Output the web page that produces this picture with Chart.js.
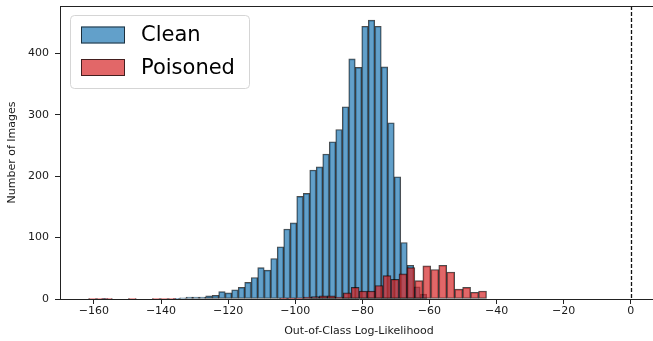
<!DOCTYPE html>
<html>
<head>
<meta charset="utf-8">
<script src="https://cdn.jsdelivr.net/npm/chart.js@4.4.0/dist/chart.umd.min.js"></script>
<style>
html, body { margin: 0; padding: 0; overflow: hidden; background: #fff; }
canvas { display: block; }
</style>
</head>
<body>
<canvas id="hist" width="658" height="341"></canvas>
<script>
// histogram data (50 bins per series)
const cleanEdges = [-157.7, -60.8];
const poisonedEdges = [-161.6, -43.0];
const cleanCounts = [
    1, 0, 0, 0, 0, 0, 0, 0, 0, 0,
    0, 1, 2, 3, 3, 3, 5, 6, 12, 10,
    15, 19, 27, 35, 51, 47, 66, 85, 114, 124,
    167, 172, 210, 215, 236, 256, 276, 313, 391, 377,
    444, 454, 444, 378, 287, 199, 92, 55, 20, 8
];
const poisonedCounts = [
    1, 1, 1, 0, 0, 1, 0, 0, 1, 1,
    1, 0, 0, 0, 0, 0, 0, 0, 0, 0,
    0, 0, 0, 0, 1, 1, 1, 3, 4, 5,
    5, 3, 10, 19, 13, 13, 22, 38, 32, 41,
    51, 30, 54, 48, 55, 44, 16, 19, 11, 13
];
const xTicks = [-160, -140, -120, -100, -80, -60, -40, -20, 0];
const yTicks = [0, 100, 200, 300, 400];
const xLimits = [-170.1, 8.1];
const yLimits = [0, 477];
const threshold = 0;

const toPoints = (edges, counts) => {
    const w = (edges[1] - edges[0]) / counts.length;
    return counts.map((c, i) => ({ x: edges[0] + (i + 0.5) * w, y: c }));
};

const font = { family: '"DejaVu Sans", sans-serif', size: 11 };
const textColor = '#1a1a1a';
const minus = v => (v < 0 ? '\u2212' + Math.abs(v) : String(v));

// dashed threshold line, top spine and the legend box inside the axes
const decorations = {
    id: 'decorations',
    afterDatasetsDraw(chart) {
        const { ctx, chartArea: a, scales } = chart;
        ctx.save();
        const x0 = Math.round(scales.x.getPixelForValue(threshold)) + 0.5;
        ctx.strokeStyle = '#111';
        ctx.lineWidth = 1.3;
        ctx.setLineDash([4, 2]);
        ctx.beginPath();
        ctx.moveTo(x0, a.top);
        ctx.lineTo(x0, a.bottom);
        ctx.stroke();
        ctx.setLineDash([]);

        ctx.strokeStyle = '#222';
        ctx.lineWidth = 1;
        ctx.beginPath();
        ctx.moveTo(a.left, a.top + 0.5);
        ctx.lineTo(a.right, a.top + 0.5);
        ctx.lineTo(a.right - 0.5, a.bottom);
        ctx.stroke();

        // legend
        const lx = 70.5, ly = 15.5, lw = 179, lh = 73;
        ctx.beginPath();
        ctx.roundRect(lx, ly, lw, lh, 4);
        ctx.fillStyle = 'rgba(255,255,255,0.8)';
        ctx.fill();
        ctx.strokeStyle = '#d5d5d5';
        ctx.stroke();

        const items = ['Clean', 'Poisoned'].map(n => chart.data.datasets.find(d => d.label === n));
        items.forEach((d, i) => {
            const cy = 35 + i * 32.5;
            ctx.fillStyle = d.backgroundColor;
            ctx.fillRect(81, cy - 8.5, 44, 17);
            ctx.strokeStyle = d.borderColor;
            ctx.lineWidth = 1;
            ctx.strokeRect(81.5, cy - 8, 43, 16);
            ctx.fillStyle = '#000';
            ctx.font = '21px "DejaVu Sans", sans-serif';
            ctx.textBaseline = 'middle';
            ctx.fillText(d.label, 141, cy + 1);
        });
        ctx.restore();
    }
};

const barStyle = {
    barPercentage: 1,
    categoryPercentage: 1,
    grouped: false,
    borderSkipped: false,
    borderWidth: 1
};

const ctx = document.getElementById('hist').getContext('2d');
new Chart(ctx, {
    type: 'bar',
    data: {
        datasets: [
            {
                label: 'Clean',
                data: toPoints(cleanEdges, cleanCounts),
                backgroundColor: 'rgba(31,119,180,0.7)',
                borderColor: 'rgba(0,0,0,0.7)',
                xAxisID: 'x',
                order: 1,
                ...barStyle
            },
            {
                label: 'Poisoned',
                data: toPoints(poisonedEdges, poisonedCounts),
                backgroundColor: 'rgba(214,39,40,0.7)',
                borderColor: 'rgba(0,0,0,0.7)',
                xAxisID: 'x2',
                order: 0,
                ...barStyle
            }
        ]
    },
    options: {
        responsive: false,
        animation: false,
        layout: { padding: { top: 6, left: 0, right: 0, bottom: 0 } },
        plugins: {
            legend: { display: false },
            tooltip: { enabled: false }
        },
        scales: {
            x: {
                type: 'linear',
                offset: false,
                min: xLimits[0],
                max: xLimits[1],
                afterBuildTicks: s => { s.ticks = xTicks.map(v => ({ value: v })); },
                afterFit: s => { s.height = 42; s.paddingLeft = 0; s.paddingRight = 0; },
                grid: { offset: false, drawOnChartArea: false, drawTicks: true, tickLength: 5, tickColor: '#222' },
                border: { display: true, color: '#222', width: 1 },
                ticks: { color: textColor, font: font, padding: 1, maxRotation: 0, autoSkip: false, callback: minus },
                title: { display: true, text: 'Out-of-Class Log-Likelihood', color: textColor, font: font, padding: { top: 0, bottom: 3 } }
            },
            x2: {
                type: 'linear',
                offset: false,
                min: xLimits[0],
                max: xLimits[1],
                display: false
            },
            y: {
                min: yLimits[0],
                max: yLimits[1],
                afterBuildTicks: s => { s.ticks = yTicks.map(v => ({ value: v })); },
                afterFit: s => { s.width = 60; s.paddingTop = 0; s.paddingBottom = 0; },
                grid: { drawOnChartArea: false, drawTicks: true, tickLength: 5, tickColor: '#222' },
                border: { display: true, color: '#222', width: 1 },
                ticks: { color: textColor, font: font, padding: 6 },
                title: { display: true, text: 'Number of Images', color: textColor, font: font, padding: { top: 6, bottom: 0 } }
            }
        }
    },
    plugins: [decorations]
});
</script>
</body>
</html>
